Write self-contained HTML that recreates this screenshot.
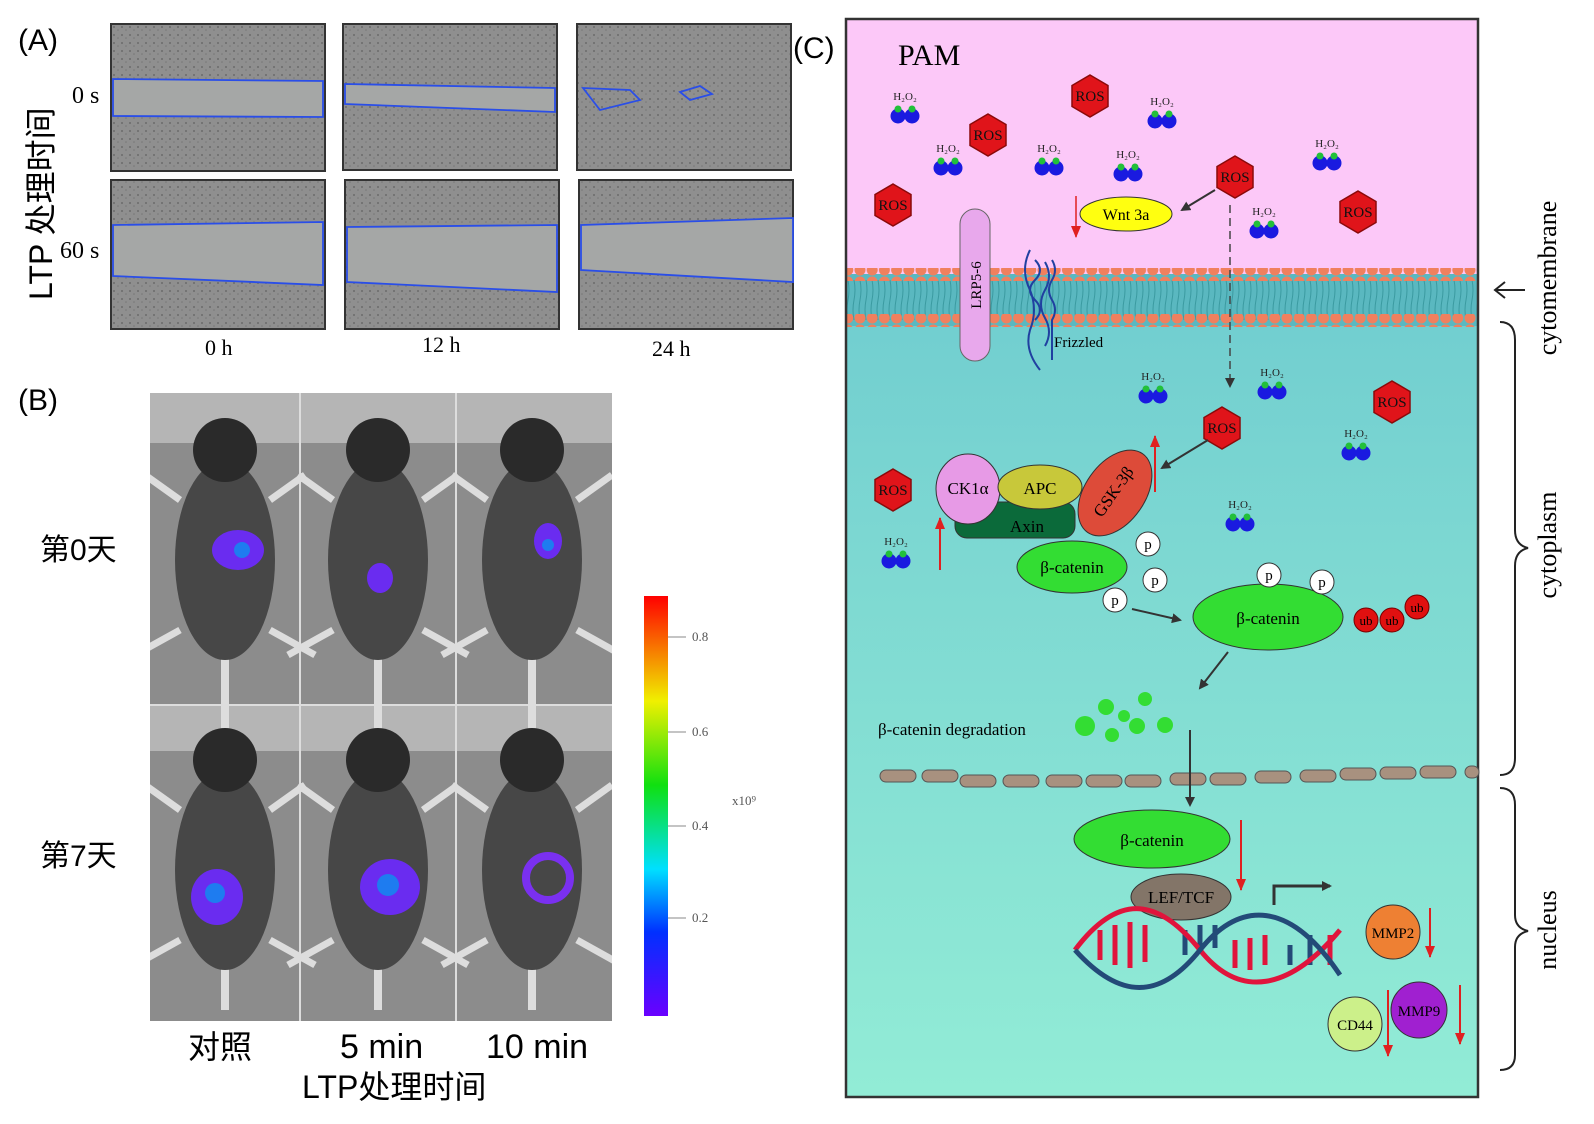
<!DOCTYPE html>
<html><head><meta charset="utf-8"><style>
html,body{margin:0;padding:0;background:#fff;}
svg{display:block;}
.s{font-family:"Liberation Serif","Noto Serif CJK SC",serif;}
.k{font-family:"Liberation Sans","Noto Sans CJK SC",sans-serif;}
</style></head><body>
<svg width="1594" height="1124" viewBox="0 0 1594 1124" xmlns="http://www.w3.org/2000/svg">
<defs>
<linearGradient id="cy" x1="0" y1="0" x2="0" y2="1">
<stop offset="0" stop-color="#63c2cd"/><stop offset="0.5" stop-color="#7dd8d2"/><stop offset="1" stop-color="#92ecd6"/></linearGradient>
<pattern id="dots" width="12.2" height="12" patternUnits="userSpaceOnUse"><circle cx="6" cy="6" r="5.5" fill="#f0805e"/></pattern>
<pattern id="tails" width="6" height="40" patternUnits="userSpaceOnUse"><path d="M2 0 q2 10 0 20 q-2 10 0 20" stroke="#3a9aa0" fill="none" stroke-width="1"/></pattern>
<pattern id="noise" width="8" height="8" patternUnits="userSpaceOnUse"><rect width="8" height="8" fill="#8f8f8f"/><circle cx="2" cy="3" r="1" fill="#6c6c6c"/><circle cx="6" cy="6" r="0.8" fill="#777"/></pattern>
<clipPath id="mc"><rect x="150" y="393" width="462" height="628"/></clipPath>
<g id="hex"><polygon points="0,-21 18,-10.5 18,10.5 0,21 -18,10.5 -18,-10.5" fill="#e0141a" stroke="#8a0a0a" stroke-width="1.5"/></g>
<g id="h2"><circle cx="-7" cy="6" r="7.5" fill="#1a1ae0"/><circle cx="7" cy="6" r="7.5" fill="#1a1ae0"/><circle cx="-7" cy="-1" r="3.5" fill="#22c03a"/><circle cx="7" cy="-1" r="3.5" fill="#22c03a"/></g>
<marker id="ar" markerWidth="10" markerHeight="10" refX="8" refY="5" orient="auto" markerUnits="userSpaceOnUse"><path d="M0 0 L10 5 L0 10 z" fill="#333"/></marker>
<marker id="rr" markerWidth="12" markerHeight="10" refX="11" refY="5" orient="auto" markerUnits="userSpaceOnUse"><path d="M0 0 L12 5 L0 10 z" fill="#e02020"/></marker>
<g id="mouse"><rect x="-4" y="90" width="8" height="190" fill="#ddd"/><path d="M-45 70 l-45 25 M45 70 l45 25 M-45 -60 l-35 -25 M45 -60 l35 -25" stroke="#ddd" stroke-width="7"/><ellipse cx="0" cy="0" rx="50" ry="100" fill="#474747"/><ellipse cx="0" cy="-110" rx="32" ry="32" fill="#2a2a2a"/></g>
</defs>

<!-- Panel A -->
<text x="18" y="50" class="k" font-size="30">(A)</text>
<text transform="translate(52,300) rotate(-90)" class="k" font-size="32">LTP 处理时间</text>
<text x="72" y="103" class="s" font-size="24">0 s</text>
<text x="60" y="258" class="s" font-size="24">60 s</text>
<g stroke="#333" stroke-width="2">
<rect x="111" y="24" width="214" height="147" fill="url(#noise)"/>
<rect x="343" y="24" width="214" height="146" fill="url(#noise)"/>
<rect x="577" y="24" width="214" height="146" fill="url(#noise)"/>
<rect x="111" y="180" width="214" height="149" fill="url(#noise)"/>
<rect x="345" y="180" width="214" height="149" fill="url(#noise)"/>
<rect x="579" y="180" width="214" height="149" fill="url(#noise)"/>
</g>
<g fill="#a5a7a6" stroke="#2a4ee8" stroke-width="1.8">
<path d="M113 79 L323 81 L323 117 L113 116 z"/>
<path d="M345 84 L555 88 L555 112 L345 104 z"/>
<path d="M113 225 L323 222 L323 285 L113 276 z"/>
<path d="M347 227 L557 225 L557 292 L347 282 z"/>
<path d="M581 225 L793 218 L793 282 L581 270 z"/>
<path d="M583 88 L630 90 L640 100 L600 110 z M680 92 L700 86 L712 94 L690 100 z" fill="none"/>
</g>
<text x="205" y="355" class="s" font-size="22">0 h</text>
<text x="422" y="352" class="s" font-size="22">12 h</text>
<text x="652" y="356" class="s" font-size="22">24 h</text>

<!-- Panel B -->
<text x="18" y="410" class="k" font-size="30">(B)</text>
<g clip-path="url(#mc)">
<rect x="150" y="393" width="462" height="628" fill="#8c8c8c"/>
<g fill="#b5b5b5">
<rect x="150" y="393" width="462" height="50"/><rect x="150" y="706" width="462" height="45"/>
</g>
<use href="#mouse" x="225" y="560"/><use href="#mouse" x="378" y="560"/><use href="#mouse" x="532" y="560"/>
<use href="#mouse" x="225" y="870"/><use href="#mouse" x="378" y="870"/><use href="#mouse" x="532" y="870"/>
<rect x="150" y="1010" width="462" height="12" fill="#8c8c8c"/>
<g fill="#6a2cf0"><ellipse cx="238" cy="550" rx="26" ry="20"/><ellipse cx="380" cy="578" rx="13" ry="15"/><ellipse cx="548" cy="541" rx="14" ry="18"/>
<ellipse cx="217" cy="897" rx="26" ry="28"/><ellipse cx="390" cy="887" rx="30" ry="28"/><ellipse cx="548" cy="878" rx="22" ry="22" fill="none" stroke="#7a30f0" stroke-width="8"/></g>
<g fill="#1e7cf0"><circle cx="242" cy="550" r="8"/><circle cx="215" cy="893" r="10"/><circle cx="388" cy="885" r="11"/><circle cx="548" cy="545" r="6"/></g>
</g>
<g stroke="#ddd" stroke-width="2"><line x1="300" y1="393" x2="300" y2="1021"/><line x1="456" y1="393" x2="456" y2="1021"/><line x1="150" y1="705" x2="612" y2="705"/></g>
<text x="40" y="560" class="k" font-size="30">第0天</text>
<text x="40" y="866" class="k" font-size="30">第7天</text>
<defs><linearGradient id="cb" x1="0" y1="1" x2="0" y2="0"><stop offset="0" stop-color="#6a00ff"/><stop offset="0.2" stop-color="#0030ff"/><stop offset="0.35" stop-color="#00e0ff"/><stop offset="0.55" stop-color="#10e010"/><stop offset="0.75" stop-color="#f0f000"/><stop offset="1" stop-color="#ff0000"/></linearGradient></defs>
<rect x="644" y="596" width="24" height="420" fill="url(#cb)"/>
<g class="s" font-size="13" fill="#555"><text x="692" y="641">0.8</text><text x="692" y="736">0.6</text><text x="692" y="830">0.4</text><text x="692" y="922">0.2</text><text x="732" y="805">x10⁹</text></g>
<g stroke="#888"><line x1="668" y1="637" x2="686" y2="637"/><line x1="668" y1="732" x2="686" y2="732"/><line x1="668" y1="826" x2="686" y2="826"/><line x1="668" y1="918" x2="686" y2="918"/></g>
<text x="188" y="1058" class="k" font-size="32">对照</text>
<text x="340" y="1058" class="k" font-size="34">5 min</text>
<text x="486" y="1058" class="k" font-size="34">10 min</text>
<text x="302" y="1098" class="k" font-size="32">LTP处理时间</text>

<!-- Panel C -->
<text x="793" y="58" class="k" font-size="30">(C)</text>
<rect x="846" y="19" width="632" height="1078" fill="url(#cy)"/>
<rect x="846" y="19" width="632" height="255" fill="#fcc8f8"/>
<rect x="846" y="274" width="632" height="52" fill="#5ab8c0"/>
<rect x="846" y="280" width="632" height="40" fill="url(#tails)"/>
<rect x="846" y="268" width="632" height="13" fill="url(#dots)"/>
<rect x="846" y="314" width="632" height="13" fill="url(#dots)"/>
<rect x="846" y="19" width="632" height="1078" fill="none" stroke="#333" stroke-width="2.5"/>
<text x="898" y="65" class="s" font-size="30">PAM</text>

<g class="s" font-size="11" text-anchor="middle" fill="#222">
<g transform="translate(905,110)"><text y="-10">H₂O₂</text><use href="#h2" y="0"/></g>
<g transform="translate(1162,115)"><text y="-10">H₂O₂</text><use href="#h2"/></g>
<g transform="translate(948,162)"><text y="-10">H₂O₂</text><use href="#h2"/></g>
<g transform="translate(1049,162)"><text y="-10">H₂O₂</text><use href="#h2"/></g>
<g transform="translate(1128,168)"><text y="-10">H₂O₂</text><use href="#h2"/></g>
<g transform="translate(1327,157)"><text y="-10">H₂O₂</text><use href="#h2"/></g>
<g transform="translate(1264,225)"><text y="-10">H₂O₂</text><use href="#h2"/></g>
<g transform="translate(1153,390)"><text y="-10">H₂O₂</text><use href="#h2"/></g>
<g transform="translate(1272,386)"><text y="-10">H₂O₂</text><use href="#h2"/></g>
<g transform="translate(1356,447)"><text y="-10">H₂O₂</text><use href="#h2"/></g>
<g transform="translate(1240,518)"><text y="-10">H₂O₂</text><use href="#h2"/></g>
<g transform="translate(896,555)"><text y="-10">H₂O₂</text><use href="#h2"/></g>
</g>
<g class="s" font-size="15" text-anchor="middle" fill="#111">
<g transform="translate(1090,96)"><use href="#hex"/><text y="5">ROS</text></g>
<g transform="translate(988,135)"><use href="#hex"/><text y="5">ROS</text></g>
<g transform="translate(893,205)"><use href="#hex"/><text y="5">ROS</text></g>
<g transform="translate(1235,177)"><use href="#hex"/><text y="5">ROS</text></g>
<g transform="translate(1358,212)"><use href="#hex"/><text y="5">ROS</text></g>
<g transform="translate(1222,428)"><use href="#hex"/><text y="5">ROS</text></g>
<g transform="translate(1392,402)"><use href="#hex"/><text y="5">ROS</text></g>
<g transform="translate(893,490)"><use href="#hex"/><text y="5">ROS</text></g>
</g>
<ellipse cx="1126" cy="214" rx="46" ry="17" fill="#ffff10" stroke="#333"/>
<text x="1126" y="220" class="s" font-size="16" text-anchor="middle">Wnt 3a</text>
<line x1="1076" y1="196" x2="1076" y2="237" stroke="#e02020" stroke-width="1.5" marker-end="url(#rr)"/>
<line x1="1215" y1="190" x2="1182" y2="210" stroke="#333" stroke-width="2" marker-end="url(#ar)"/>
<line x1="1230" y1="205" x2="1230" y2="386" stroke="#444" stroke-width="1.5" stroke-dasharray="8,5" marker-end="url(#ar)"/>
<rect x="960" y="209" width="30" height="152" rx="15" fill="#e8a8ec" stroke="#666"/>
<text transform="translate(981,285) rotate(-90)" class="s" font-size="15" text-anchor="middle">LRP5-6</text>
<path d="M1030 250 q-10 20 0 40 q8 20 0 40 q-6 20 10 40 M1035 260 q10 10 0 20 q-10 10 0 20 q10 10 0 20 M1045 262 q8 14 0 28 q-8 14 0 28 q8 14 0 28 M1052 260 q6 10 0 20 q-6 10 0 20 q6 10 0 20 l0 40" stroke="#2040a0" stroke-width="2" fill="none"/>
<text x="1054" y="347" class="s" font-size="15">Frizzled</text>

<!-- destruction complex -->
<rect x="955" y="502" width="120" height="36" rx="12" fill="#0b6a3a" stroke="#333"/>
<text x="1027" y="532" class="s" font-size="17" text-anchor="middle">Axin</text>
<ellipse cx="968" cy="489" rx="32" ry="35" fill="#e79ae6" stroke="#333"/>
<text x="968" y="494" class="s" font-size="17" text-anchor="middle">CK1α</text>
<ellipse cx="1040" cy="487" rx="42" ry="22" fill="#c8c83a" stroke="#333"/>
<text x="1040" y="494" class="s" font-size="17" text-anchor="middle">APC</text>
<ellipse cx="1115" cy="493" rx="30" ry="48" transform="rotate(35 1115 493)" fill="#dd4b39" stroke="#333"/>
<text transform="translate(1118,495) rotate(-55)" class="s" font-size="17" text-anchor="middle">GSK-3β</text>
<line x1="940" y1="570" x2="940" y2="518" stroke="#e02020" stroke-width="2" marker-end="url(#rr)"/>
<line x1="1155" y1="492" x2="1155" y2="436" stroke="#e02020" stroke-width="2" marker-end="url(#rr)"/>
<line x1="1208" y1="440" x2="1162" y2="468" stroke="#333" stroke-width="2" marker-end="url(#ar)"/>
<ellipse cx="1072" cy="567" rx="55" ry="26" fill="#33dd33" stroke="#333"/>
<text x="1072" y="573" class="s" font-size="17" text-anchor="middle">β-catenin</text>
<ellipse cx="1268" cy="617" rx="75" ry="33" fill="#33dd33" stroke="#333"/>
<text x="1268" y="624" class="s" font-size="17" text-anchor="middle">β-catenin</text>
<g fill="#fff" stroke="#333"><circle cx="1148" cy="544" r="12"/><circle cx="1155" cy="580" r="12"/><circle cx="1115" cy="600" r="12"/><circle cx="1269" cy="575" r="12"/><circle cx="1322" cy="582" r="12"/></g>
<g class="s" font-size="15" text-anchor="middle"><text x="1148" y="549">p</text><text x="1155" y="585">p</text><text x="1115" y="605">p</text><text x="1269" y="580">p</text><text x="1322" y="587">p</text></g>
<g fill="#e01010" stroke="#700"><circle cx="1366" cy="620" r="12"/><circle cx="1392" cy="620" r="12"/><circle cx="1417" cy="607" r="12"/></g>
<g class="s" font-size="13" text-anchor="middle"><text x="1366" y="625">ub</text><text x="1392" y="625">ub</text><text x="1417" y="612">ub</text></g>
<line x1="1132" y1="609" x2="1180" y2="620" stroke="#333" stroke-width="2" marker-end="url(#ar)"/>
<line x1="1228" y1="652" x2="1200" y2="688" stroke="#333" stroke-width="2" marker-end="url(#ar)"/>
<text x="878" y="735" class="s" font-size="17">β-catenin degradation</text>
<g fill="#33dd33"><circle cx="1085" cy="726" r="10"/><circle cx="1106" cy="707" r="8"/><circle cx="1124" cy="716" r="6"/><circle cx="1112" cy="735" r="7"/><circle cx="1137" cy="726" r="8"/><circle cx="1145" cy="699" r="7"/><circle cx="1165" cy="725" r="8"/></g>
<g fill="#a8917f" stroke="#555">
<rect x="880" y="770" width="36" height="12" rx="6"/><rect x="922" y="770" width="36" height="12" rx="6"/><rect x="960" y="775" width="36" height="12" rx="6"/><rect x="1003" y="775" width="36" height="12" rx="6"/><rect x="1046" y="775" width="36" height="12" rx="6"/><rect x="1086" y="775" width="36" height="12" rx="6"/><rect x="1125" y="775" width="36" height="12" rx="6"/><rect x="1170" y="773" width="36" height="12" rx="6"/><rect x="1210" y="773" width="36" height="12" rx="6"/><rect x="1255" y="771" width="36" height="12" rx="6"/><rect x="1300" y="770" width="36" height="12" rx="6"/><rect x="1340" y="768" width="36" height="12" rx="6"/><rect x="1380" y="767" width="36" height="12" rx="6"/><rect x="1420" y="766" width="36" height="12" rx="6"/><rect x="1465" y="766" width="14" height="12" rx="6"/></g>
<line x1="1190" y1="730" x2="1190" y2="805" stroke="#333" stroke-width="2" marker-end="url(#ar)"/>
<ellipse cx="1152" cy="839" rx="78" ry="29" fill="#33dd33" stroke="#333"/>
<text x="1152" y="846" class="s" font-size="17" text-anchor="middle">β-catenin</text>
<line x1="1241" y1="820" x2="1241" y2="890" stroke="#e02020" stroke-width="2" marker-end="url(#rr)"/>
<ellipse cx="1181" cy="897" rx="50" ry="23" fill="#837568" stroke="#333"/>
<text x="1181" y="903" class="s" font-size="17" text-anchor="middle">LEF/TCF</text>
<path d="M1274 905 L1274 886 L1330 886" stroke="#333" stroke-width="3" fill="none" marker-end="url(#ar)"/>
<g stroke-width="5" fill="none">
<g stroke="#e0143c"><line x1="1100" y1="930" x2="1100" y2="960"/><line x1="1115" y1="925" x2="1115" y2="965"/><line x1="1130" y1="922" x2="1130" y2="968"/><line x1="1145" y1="925" x2="1145" y2="962"/><line x1="1235" y1="940" x2="1235" y2="968"/><line x1="1250" y1="938" x2="1250" y2="970"/><line x1="1265" y1="935" x2="1265" y2="965"/><line x1="1330" y1="935" x2="1330" y2="965"/></g>
<g stroke="#234a78"><line x1="1200" y1="925" x2="1200" y2="950"/><line x1="1215" y1="925" x2="1215" y2="948"/><line x1="1185" y1="930" x2="1185" y2="955"/><line x1="1290" y1="945" x2="1290" y2="965"/><line x1="1310" y1="935" x2="1310" y2="965"/></g>
<path d="M1075 950 C1120 890 1160 900 1200 950 C1240 1000 1290 990 1340 930" stroke="#e0143c"/>
<path d="M1075 950 C1120 1000 1160 1000 1200 950 C1240 900 1290 900 1340 975" stroke="#234a78"/>
</g>
<circle cx="1393" cy="932" r="27" fill="#ee8033" stroke="#333"/>
<text x="1393" y="938" class="s" font-size="15" text-anchor="middle">MMP2</text>
<circle cx="1419" cy="1010" r="28" fill="#a020d0" stroke="#333"/>
<text x="1419" y="1016" class="s" font-size="15" text-anchor="middle">MMP9</text>
<circle cx="1355" cy="1024" r="27" fill="#ccf08a" stroke="#333"/>
<text x="1355" y="1030" class="s" font-size="15" text-anchor="middle">CD44</text>
<line x1="1430" y1="908" x2="1430" y2="957" stroke="#e02020" stroke-width="2" marker-end="url(#rr)"/>
<line x1="1388" y1="990" x2="1388" y2="1056" stroke="#e02020" stroke-width="2" marker-end="url(#rr)"/>
<line x1="1460" y1="985" x2="1460" y2="1044" stroke="#e02020" stroke-width="2" marker-end="url(#rr)"/>

<!-- right labels -->
<path d="M1525 290 L1495 290 M1505 282 L1495 290 L1505 298" stroke="#222" stroke-width="2" fill="none"/>
<text transform="translate(1556,278) rotate(-90)" class="s" font-size="26" text-anchor="middle">cytomembrane</text>
<path d="M1500 322 Q1515 322 1515 340 L1515 530 Q1515 545 1528 548 Q1515 551 1515 566 L1515 758 Q1515 775 1500 775" stroke="#222" stroke-width="2" fill="none"/>
<text transform="translate(1556,545) rotate(-90)" class="s" font-size="26" text-anchor="middle">cytoplasm</text>
<path d="M1500 788 Q1515 788 1515 805 L1515 915 Q1515 928 1528 931 Q1515 934 1515 947 L1515 1055 Q1515 1070 1500 1070" stroke="#222" stroke-width="2" fill="none"/>
<text transform="translate(1556,930) rotate(-90)" class="s" font-size="26" text-anchor="middle">nucleus</text>
</svg>
</body></html>
